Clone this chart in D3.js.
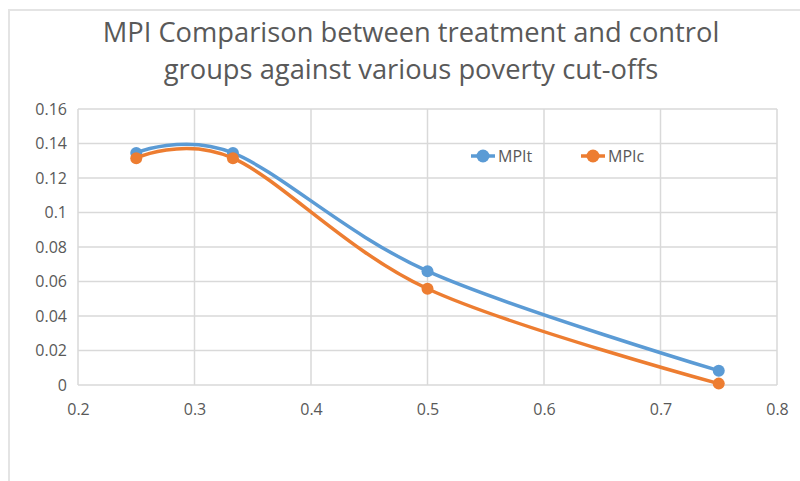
<!DOCTYPE html>
<html>
<head>
<meta charset="utf-8">
<script src="https://cdn.jsdelivr.net/npm/d3@7"></script>
<style>
  body { margin: 0; background: #fff; }
  text { font-family: "Open Sans", "Noto Sans", sans-serif; }
</style>
</head>
<body>
<div id="container"></div>
<script>
// data
let cutoffs = [0.25, 0.333, 0.5, 0.75];
let mpiT = [0.1345, 0.1345, 0.066, 0.0083];
let mpiC = [0.1315, 0.1315, 0.0558, 0.0008];
let seriesNames = ["MPIt", "MPIc"];
let xTicks = [0.2, 0.3, 0.4, 0.5, 0.6, 0.7, 0.8];
let yTicks = [0, 0.02, 0.04, 0.06, 0.08, 0.1, 0.12, 0.14, 0.16];
let titleLines = ["MPI Comparison between treatment and control", "groups against various poverty cut-offs"];

let w = 800;
let h = 481;
let colors = ["#5B9BD5", "#ED7D31"];

let viz = d3.select("#container")
  .append("svg")
    .attr("width", w)
    .attr("height", h)
    .style("display", "block")
;

// light frame round the chart
viz.append("path")
  .attr("d", "M9,481 V10 H800")
  .attr("fill", "none")
  .attr("stroke", "#e4e4e4")
  .attr("stroke-width", 2);

let xScale = d3.scaleLinear().domain([0.2, 0.8]).range([78, 777]);
let yScale = d3.scaleLinear().domain([0, 0.16]).range([385, 109]);

// title
viz.append("g").selectAll("text").data(titleLines).enter()
  .append("text")
    .attr("x", 411)
    .attr("y", (d, i) => 42 + i * 37)
    .attr("text-anchor", "middle")
    .attr("font-size", 27.3)
    .attr("fill", "#595959")
    .text(d => d);

// grid
let grid = viz.append("g").attr("class", "grid");
grid.selectAll(".hline").data(yTicks).enter()
  .append("line")
    .attr("x1", xScale(0.2)).attr("x2", xScale(0.8))
    .attr("y1", d => yScale(d)).attr("y2", d => yScale(d))
    .attr("stroke", "#d9d9d9").attr("stroke-width", 1.5);
grid.selectAll(".vline").data(xTicks).enter()
  .append("line")
    .attr("y1", yScale(0)).attr("y2", yScale(0.16))
    .attr("x1", d => xScale(d)).attr("x2", d => xScale(d))
    .attr("stroke", "#d9d9d9").attr("stroke-width", 1.5);

// axes
let xAxis = d3.axisBottom(xScale).tickValues(xTicks).tickSize(0).tickPadding(19).tickFormat(d3.format(""));
let xAxisGroup = viz.append("g").attr("transform", "translate(0," + yScale(0) + ")").call(xAxis);
let yAxis = d3.axisLeft(yScale).tickValues(yTicks).tickSize(0).tickPadding(11).tickFormat(d3.format(""));
let yAxisGroup = viz.append("g").attr("transform", "translate(" + xScale(0.2) + ",0)").call(yAxis);
[xAxisGroup, yAxisGroup].forEach(g => {
  g.select(".domain").remove();
  g.selectAll("text")
    .attr("font-size", 16)
    .attr("fill", "#595959")
    .style("font-family", "'Open Sans', 'Noto Sans', sans-serif");
});

// lines
let series = [mpiT, mpiC].map((vals, i) => ({
  name: seriesNames[i],
  color: colors[i],
  points: cutoffs.map((c, j) => ({x: c, y: vals[j]}))
}));

let line = d3.line()
  .x(d => xScale(d.x))
  .y(d => yScale(d.y))
  .curve(d3.curveCardinal.tension(0));

let seriesGroups = viz.selectAll(".series").data(series).enter()
  .append("g").attr("class", "series");

seriesGroups.append("path")
  .attr("d", d => line(d.points))
  .attr("fill", "none")
  .attr("stroke", d => d.color)
  .attr("stroke-width", 3.5)
  .attr("stroke-linecap", "round");

seriesGroups.selectAll("circle").data(d => d.points.map(p => ({...p, color: d.color}))).enter()
  .append("circle")
    .attr("cx", d => xScale(d.x))
    .attr("cy", d => yScale(d.y))
    .attr("r", 6)
    .attr("fill", d => d.color);

// legend
let legendX = [483, 593];
let legend = viz.selectAll(".legend").data(series).enter()
  .append("g")
    .attr("class", "legend")
    .attr("transform", (d, i) => "translate(" + legendX[i] + ",156)");
legend.append("line")
  .attr("x1", -12).attr("x2", 12)
  .attr("stroke", d => d.color).attr("stroke-width", 3.5);
legend.append("circle")
  .attr("r", 6.5)
  .attr("fill", d => d.color);
legend.append("text")
  .attr("x", 15)
  .attr("dy", "0.35em")
  .attr("font-size", 16)
  .attr("fill", "#595959")
  .text(d => d.name);
</script>
</body>
</html>
